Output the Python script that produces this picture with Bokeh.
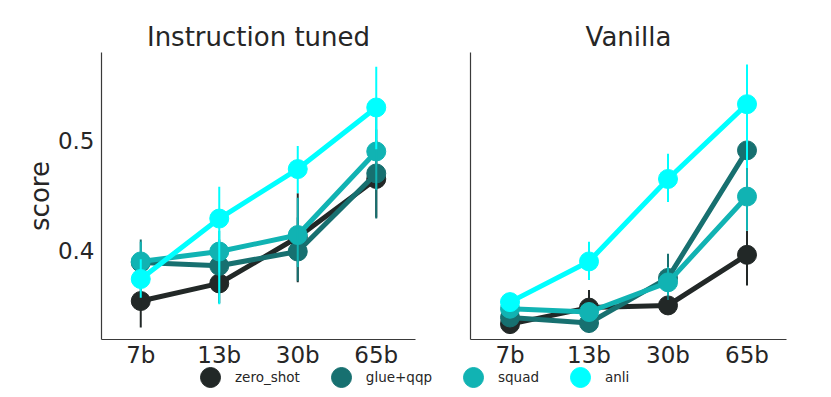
from bokeh.plotting import figure
from bokeh.layouts import row, column
from bokeh.models import FactorRange, Range1d, FixedTicker, Legend, LegendItem, ColumnDataSource
from bokeh.embed import file_html
from bokeh.resources import INLINE

sizes = ["7b", "13b", "30b", "65b"]
series = ["zero_shot", "glue+qqp", "squad", "anli"]
colors = ["#222827", "#177070", "#11b3b3", "#00ffff"]

# Instruction tuned
it_mean = {
    "zero_shot": [0.354, 0.370, 0.412, 0.465],
    "glue+qqp": [0.389, 0.386, 0.399, 0.470],
    "squad": [0.390, 0.399, 0.414, 0.490],
    "anli": [0.374, 0.429, 0.474, 0.530],
}
it_low = {
    "zero_shot": [0.330, 0.352, 0.371, 0.430],
    "glue+qqp": [0.370, 0.362, 0.372, 0.429],
    "squad": [0.372, 0.380, 0.385, 0.455],
    "anli": [0.357, 0.351, 0.452, 0.492],
}
it_high = {
    "zero_shot": [0.378, 0.388, 0.452, 0.500],
    "glue+qqp": [0.410, 0.410, 0.430, 0.510],
    "squad": [0.408, 0.418, 0.448, 0.525],
    "anli": [0.392, 0.458, 0.495, 0.567],
}
# Vanilla
va_mean = {
    "zero_shot": [0.333, 0.348, 0.350, 0.396],
    "glue+qqp": [0.339, 0.334, 0.375, 0.491],
    "squad": [0.347, 0.344, 0.371, 0.449],
    "anli": [0.353, 0.390, 0.465, 0.533],
}
va_low = {
    "zero_shot": [0.326, 0.333, 0.342, 0.368],
    "glue+qqp": [0.331, 0.325, 0.355, 0.440],
    "squad": [0.340, 0.336, 0.359, 0.418],
    "anli": [0.346, 0.373, 0.444, 0.475],
}
va_high = {
    "zero_shot": [0.341, 0.364, 0.358, 0.418],
    "glue+qqp": [0.347, 0.343, 0.397, 0.535],
    "squad": [0.354, 0.352, 0.385, 0.478],
    "anli": [0.360, 0.408, 0.488, 0.569],
}

Y_MIN, Y_MAX = 0.319, 0.580
TXT = "#262626"
FONT = "DejaVu Sans"


def make_panel(title, mean, low, high, width, bl, br, show_y):
    p = figure(width=width, height=371, x_range=FactorRange(factors=sizes),
               y_range=Range1d(Y_MIN, Y_MAX), output_backend="svg",
               toolbar_location=None, title=title,
               min_border_left=bl, min_border_right=br,
               min_border_top=52, min_border_bottom=32)
    p.outline_line_color = None
    p.grid.visible = False
    p.background_fill_color = "white"
    p.border_fill_color = "white"
    p.title.text_font = FONT
    p.title.text_font_size = "26px"
    p.title.text_font_style = "normal"
    p.title.text_color = TXT
    p.title.align = "center"
    p.title.standoff = 2

    for ax in (p.xaxis[0], p.yaxis[0]):
        ax.axis_line_color = "#3a3a3a"
        ax.axis_line_width = 1.2
        ax.major_tick_line_color = None
        ax.minor_tick_line_color = None
        ax.major_tick_out = 0
        ax.major_tick_in = 0
        ax.major_label_text_font = FONT
        ax.major_label_text_font_size = "23px"
        ax.major_label_text_color = TXT
    p.xaxis.major_label_standoff = 2
    if show_y:
        p.yaxis.ticker = FixedTicker(ticks=[0.4, 0.5])
        p.yaxis.major_label_standoff = 7
        p.yaxis.axis_label = "score"
        p.yaxis.axis_label_text_font = FONT
        p.yaxis.axis_label_text_font_size = "26px"
        p.yaxis.axis_label_text_font_style = "normal"
        p.yaxis.axis_label_text_color = TXT
        p.yaxis.axis_label_standoff = 0
    else:
        p.yaxis.ticker = FixedTicker(ticks=[])

    for s, c in zip(series, colors):
        src = ColumnDataSource(dict(x=sizes, y=mean[s], lo=low[s], hi=high[s]))
        p.line("x", "y", source=src, line_color=c, line_width=5)
        p.scatter("x", "y", source=src, size=19, marker="circle",
                  fill_color=c, line_color=c)
        p.segment(x0="x", y0="lo", x1="x", y1="hi", source=src,
                  line_color=c, line_width=2)
    return p


p1 = make_panel("Instruction tuned", it_mean, it_low, it_high, 450, 101, 35, True)
p2 = make_panel("Vanilla", va_mean, va_low, va_high, 373, 20, 37, False)

# legend strip (its own small figure, overlapping the bottom margin of the panels)
p3 = figure(width=823, height=44, x_range=FactorRange(factors=sizes),
            y_range=Range1d(10, 11), output_backend="svg", toolbar_location=None,
            min_border=0, margin=(-19, 0, 0, 0))
p3.axis.visible = False
p3.grid.visible = False
p3.outline_line_color = None
p3.background_fill_alpha = 0
p3.border_fill_alpha = 0
items = []
for s, c in zip(series, colors):
    src = ColumnDataSource(dict(x=sizes, y=it_mean[s]))
    r = p3.scatter("x", "y", source=src, size=19, marker="circle",
                   fill_color=c, line_color=c)
    items.append(LegendItem(label=s, renderers=[r]))
leg = Legend(items=items, location=(185, -6), orientation="horizontal",
             glyph_width=50, glyph_height=50, label_standoff=0,
             spacing=16, padding=0, margin=0,
             label_text_font=FONT, label_text_font_size="13.5px",
             label_text_color=TXT,
             border_line_alpha=0, background_fill_alpha=0)
p3.add_layout(leg)

layout = column(row(p1, p2), p3)
open("out.html", "w").write(file_html(layout, INLINE))
